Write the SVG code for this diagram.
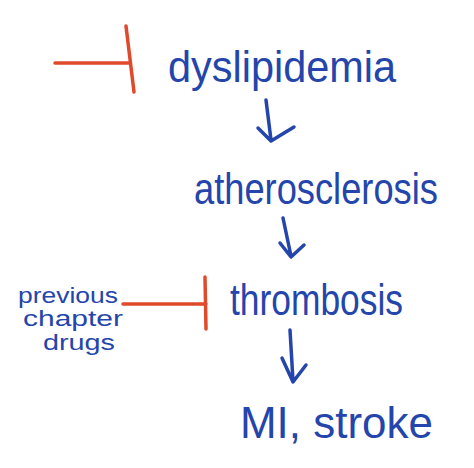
<svg xmlns="http://www.w3.org/2000/svg" width="474" height="468" viewBox="0 0 474 468">
<style>
  .t { font-family: "Liberation Sans", "DejaVu Sans", sans-serif; fill: #2445ab; }
  .big { font-size: 45px; }
  .small { font-size: 22px; }
  .ink { stroke: #2445ab; stroke-width: 3.5; fill: none; stroke-linecap: round; stroke-linejoin: round; }
  .red { stroke: #e04a2c; stroke-width: 3.5; fill: none; stroke-linecap: round; }
</style>
<rect width="474" height="468" fill="#ffffff"/>
<g id="dyslipidemia">
  <text class="t big" x="168" y="82" textLength="228" lengthAdjust="spacingAndGlyphs">dyslipidemia</text>
</g>
<g id="atherosclerosis">
  <text class="t big" transform="translate(194,204) scale(0.806,1)" x="0" y="0">atherosclerosis</text>
</g>
<g id="thrombosis">
  <text class="t big" x="230" y="315" textLength="173" lengthAdjust="spacingAndGlyphs">thrombosis</text>
</g>
<g id="mi-stroke">
  <text class="t big" x="240" y="438" textLength="193" lengthAdjust="spacingAndGlyphs">MI, stroke</text>
</g>
<g id="previous-chapter-drugs">
  <text class="t small" x="18" y="303" textLength="100" lengthAdjust="spacingAndGlyphs">previous</text>
  <text class="t small" x="23" y="326" textLength="100" lengthAdjust="spacingAndGlyphs">chapter</text>
  <text class="t small" x="43" y="350" textLength="72" lengthAdjust="spacingAndGlyphs">drugs</text>
</g>
<g id="connectors">
  <path class="red" d="M55 63 L129 63 M126 26 L134 92"/>
  <path class="ink" d="M266 100 L271 140 M258 128 L271 141 L294 127"/>
  <path class="ink" d="M283 218 L291 256 M280 243 L291 257 L304 245"/>
  <path class="red" d="M123 304 L206 304 M205 277 L206 329"/>
  <path class="ink" d="M290 330 L293 381 M282 358 L293 382 L306 365"/>
</g>
</svg>
